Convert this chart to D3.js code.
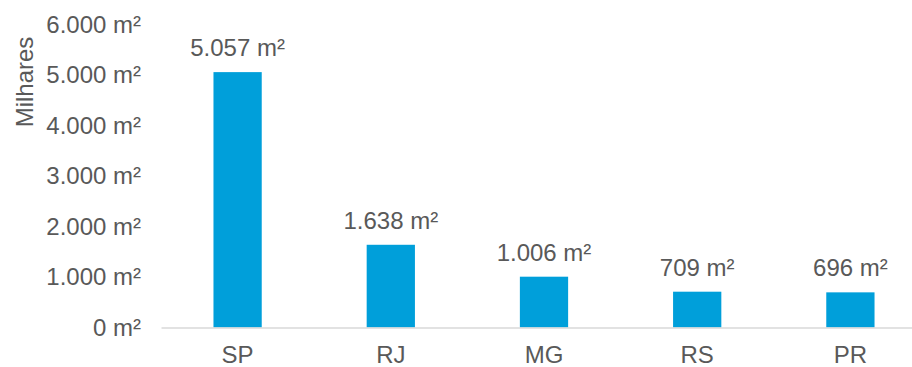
<!DOCTYPE html>
<html>
<head>
<meta charset="utf-8">
<script src="https://cdn.jsdelivr.net/npm/d3@7"></script>
<style>
  html, body { margin: 0; padding: 0; background: #fff; }
  svg { display: block; font-family: "Liberation Sans", Arial, sans-serif; }
</style>
</head>
<body>
<svg id="chart" width="912" height="367"></svg>
<script>
// Área por estado (milhares de m²)
const estados = ["SP", "RJ", "MG", "RS", "PR"];
const areas = [5057, 1638, 1006, 709, 696];
const yTicks = [0, 1000, 2000, 3000, 4000, 5000, 6000];
const yTitulo = "Milhares";

const fmt = d3.formatLocale({ decimal: ",", thousands: ".", grouping: [3], currency: ["R$", ""] }).format(",.0f");
const rotulo = v => fmt(v) + " m²";

const svg = d3.select("#chart");
const textColor = "#595959";
const fontSize = 24;

const x = d3.scaleBand().domain(estados).range([161, 927]).paddingInner(0.685).paddingOuter(0.3425);
const y = d3.scaleLinear().domain([0, 6000]).range([327.5, 24.5]);

// eixo de valores
const gy = svg.append("g").attr("transform", "translate(141,0)")
  .call(d3.axisLeft(y).tickValues(yTicks).tickSize(0).tickPadding(0).tickFormat(rotulo));
gy.select(".domain").remove();
gy.selectAll("text").attr("fill", textColor).attr("font-size", fontSize)
  .attr("font-family", "Liberation Sans, Arial, sans-serif");

// título do eixo
svg.append("text")
  .attr("transform", `translate(33,${82}) rotate(-90)`)
  .attr("text-anchor", "middle")
  .attr("fill", textColor).attr("font-size", fontSize)
  .text(yTitulo);

// barras
svg.append("g").selectAll("rect").data(areas).join("rect")
  .attr("x", (d, i) => x(estados[i]))
  .attr("width", x.bandwidth())
  .attr("y", d => y(d))
  .attr("height", d => y(0) - y(d))
  .attr("fill", "#009FDA");

// rótulos de valor
svg.append("g").selectAll("text").data(areas).join("text")
  .attr("x", (d, i) => x(estados[i]) + x.bandwidth() / 2)
  .attr("y", d => y(d) - 16)
  .attr("text-anchor", "middle")
  .attr("fill", textColor).attr("font-size", fontSize)
  .text(rotulo);

// eixo de categorias
const gx = svg.append("g").attr("transform", `translate(0,${y(0)})`)
  .call(d3.axisBottom(x).tickSize(0).tickPadding(18));
gx.select(".domain").attr("stroke", "#D9D9D9").attr("stroke-width", 1.5);
gx.selectAll("text").attr("fill", textColor).attr("font-size", fontSize)
  .attr("dy", "0.71em")
  .attr("font-family", "Liberation Sans, Arial, sans-serif");
</script>
</body>
</html>
